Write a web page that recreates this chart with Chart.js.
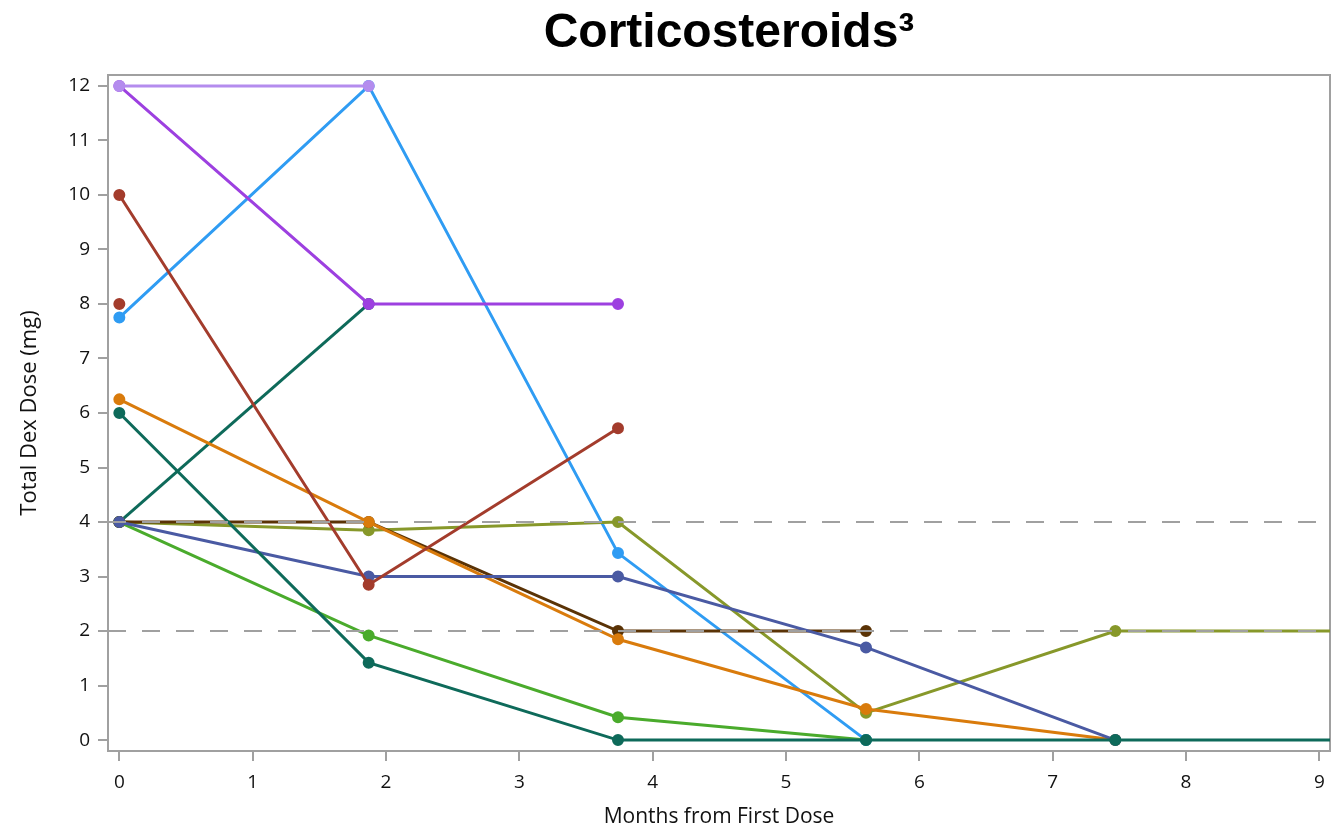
<!DOCTYPE html>
<html>
<head>
<meta charset="utf-8">
<script src="https://cdn.jsdelivr.net/npm/chart.js@4.4.1/dist/chart.umd.min.js"></script>
<style>
  body { margin: 0; background: #fff; }
  #wrap { position: relative; width: 1332px; height: 830px; }
  #title {
    position: absolute; top: 7px; left: 729px; transform: translateX(-50%);
    font: bold 48px "Liberation Sans", Arial, sans-serif; line-height: 48px;
    color: #000; white-space: nowrap;
  }
</style>
</head>
<body>
<div id="wrap">
  <canvas id="chart" width="1332" height="830"></canvas>
  <div id="title">Corticosteroids³</div>
</div>
<script>
// visit times (months from first dose)
const months = [0, 1.87, 3.74, 5.6, 7.47, 9.34];
const xTicks = [0, 1, 2, 3, 4, 5, 6, 7, 8, 9];
const yTicks = [0, 1, 2, 3, 4, 5, 6, 7, 8, 9, 10, 11, 12];
const refLevels = [4, 2];

// one patient per array, values at each visit (listed bottom to top in draw order)
const tealA = [4, 8];
const green = [4, 1.92, 0.42, 0];
const blue = [7.75, 12, 3.43, 0];
const olive = [4, 3.85, 4, 0.5, 2, 2];
const purple = [12, 8, 8];
const darkBrown = [4, 4, 2, 2];
const orange = [6.25, 4, 1.85, 0.57, 0];
const slate = [4, 3, 3, 1.7, 0];
const brownRed = [10, 2.85, 5.72];
const brownRedSingle = [8];
const tealB = [6, 1.42, 0, 0, 0, 0];
const lavender = [12, 12];

const series = [
  { vals: tealA, color: '#0e6a5a' },
  { vals: green, color: '#4aab2c' },
  { vals: blue, color: '#2f9cf3' },
  { vals: olive, color: '#87982a' },
  { vals: purple, color: '#9d40e0' },
  { vals: darkBrown, color: '#5a3306' },
  { vals: orange, color: '#d97b0c' },
  { vals: slate, color: '#4a5aa3' },
  { vals: brownRed, color: '#a33c2c' },
  { vals: brownRedSingle, color: '#a33c2c' },
  { vals: tealB, color: '#0e6a5a' },
  { vals: lavender, color: '#b48cee' }
];

const xMin = -0.085, xMax = 9.08;
const yMin = -0.2, yMax = 12.2;

const datasets = series.map((s, i) => ({
  data: s.vals.map((v, j) => ({ x: months[j], y: v })),
  borderColor: s.color,
  backgroundColor: s.color,
  pointBackgroundColor: s.color,
  pointBorderColor: s.color,
  pointBorderWidth: 2,
  pointRadius: 5,
  borderWidth: 3,
  order: series.length - i + 1
}));

refLevels.forEach(level => {
  datasets.push({
    data: [{ x: xMin, y: level }, { x: xMax, y: level }],
    borderColor: '#a0a0a0',
    borderWidth: 2,
    borderDash: [18, 16],
    pointRadius: 0,
    order: 0
  });
});

const frame = {
  id: 'frame',
  beforeDatasetsDraw(chart) {
    const { ctx, chartArea: a } = chart;
    ctx.save();
    ctx.strokeStyle = '#a0a0a0';
    ctx.lineWidth = 2;
    ctx.beginPath();
    ctx.moveTo(a.left, a.top);
    ctx.lineTo(a.right, a.top);
    ctx.lineTo(a.right, a.bottom);
    ctx.stroke();
    ctx.restore();
  }
};

const tickFont = { family: '"Open Sans", sans-serif', size: 19 };
const titleFont = { family: '"Open Sans", sans-serif', size: 21 };

new Chart(document.getElementById('chart'), {
  type: 'line',
  data: { datasets },
  plugins: [frame],
  options: {
    responsive: false,
    animation: false,
    devicePixelRatio: 1,
    layout: { autoPadding: false, padding: { top: 75, right: 2, left: 0, bottom: 0 } },
    plugins: { legend: { display: false }, tooltip: { enabled: false } },
    scales: {
      x: {
        type: 'linear', min: xMin, max: xMax,
        afterBuildTicks: s => { s.ticks = xTicks.map(v => ({ value: v })); },
        afterFit: s => { s.height = 79; s.paddingLeft = 0; s.paddingRight = 0; },
        ticks: { includeBounds: false, color: '#111', font: tickFont, padding: 10, maxRotation: 0 },
        grid: { drawOnChartArea: false, tickLength: 10, color: '#a0a0a0', lineWidth: 2 },
        border: { color: '#a0a0a0', width: 2 },
        title: { display: true, text: 'Months from First Dose', color: '#111', font: titleFont, padding: 0 }
      },
      y: {
        type: 'linear', min: yMin, max: yMax,
        afterBuildTicks: s => { s.ticks = yTicks.map(v => ({ value: v })); },
        afterFit: s => { s.width = 108; s.paddingTop = 0; s.paddingBottom = 0; },
        ticks: { includeBounds: false, color: '#111', font: tickFont, padding: 8 },
        grid: { drawOnChartArea: false, tickLength: 10, color: '#a0a0a0', lineWidth: 2 },
        border: { color: '#a0a0a0', width: 2 },
        title: { display: true, text: 'Total Dex Dose (mg)', color: '#111', font: { family: '"Open Sans", sans-serif', size: 22 }, padding: { top: 17, bottom: 0 } }
      }
    }
  }
});
</script>
</body>
</html>
